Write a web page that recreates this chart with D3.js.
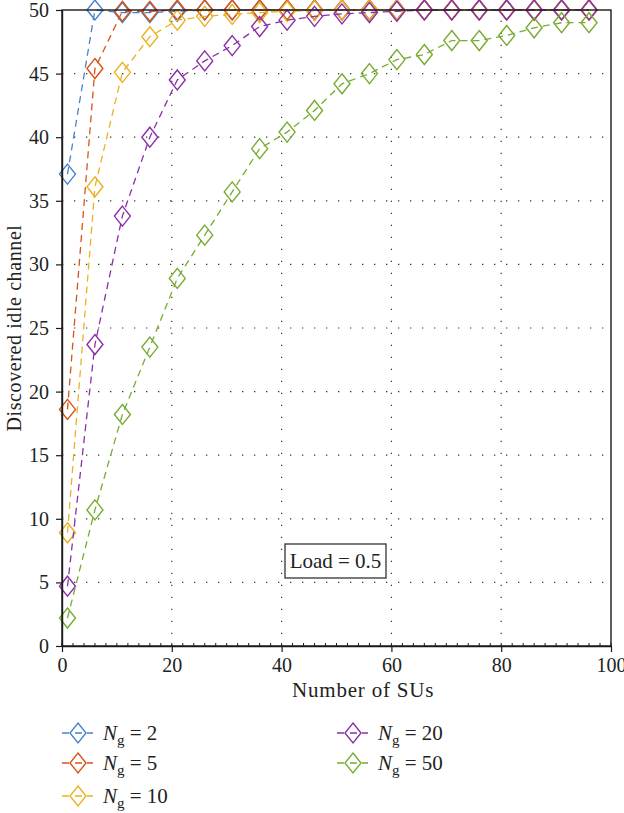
<!DOCTYPE html>
<html>
<head>
<meta charset="utf-8">
<script src="https://cdn.jsdelivr.net/npm/d3@7"></script>
<style>
  html, body { margin: 0; padding: 0; background: #fff; }
  svg { display: block; }
  text { font-family: "Liberation Serif", "Times New Roman", serif; fill: #222; }
</style>
</head>
<body>
<svg id="chart" width="624" height="813"></svg>
<script>
// Number of secondary users (x positions of the markers)
const numSUs = [1, 6, 11, 16, 21, 26, 31, 36, 41, 46, 51, 56, 61, 66, 71, 76, 81, 86, 91, 96];

// Discovered idle channels for each group count N_g
const ng2  = [37.1, 50, 49.8, 49.8, 49.9, 50, 50, 50, 50, 50, 50, 50, 50, 50, 50, 50, 50, 50, 50, 50];
const ng5  = [18.6, 45.4, 49.9, 49.9, 50, 50, 50, 50, 50, 50, 50, 50, 50, 50, 50, 50, 50, 50, 50, 50];
const ng10 = [8.9, 36.1, 45.1, 47.9, 49.2, 49.5, 49.65, 49.8, 49.9, 49.95, 50, 50, 50, 50, 50, 50, 50, 50, 50, 50];
const ng20 = [4.7, 23.7, 33.8, 40.0, 44.5, 46.0, 47.2, 48.7, 49.2, 49.5, 49.7, 49.8, 49.9, 50, 50, 50, 50, 50, 50, 50];
const ng50 = [2.2, 10.7, 18.2, 23.5, 28.9, 32.3, 35.7, 39.1, 40.4, 42.1, 44.2, 45.0, 46.1, 46.5, 47.6, 47.6, 48.0, 48.6, 49.0, 49.0];

const seriesNames = ["2", "5", "10", "20", "50"];
const seriesColors = ["#4483cc", "#d95319", "#edb120", "#8a2fa8", "#77ac30"];
const seriesValues = [ng2, ng5, ng10, ng20, ng50];

const xTicks = [0, 20, 40, 60, 80, 100];
const yTicks = [0, 5, 10, 15, 20, 25, 30, 35, 40, 45, 50];
const loadLabel = "Load = 0.5";

const svg = d3.select("#chart");
const margin = { left: 62, right: 13, top: 10, bottom: 167 };
const W = 624, H = 813;

const x = d3.scaleLinear().domain([0, 100]).range([margin.left, W - margin.right]);
const y = d3.scaleLinear().domain([0, 50]).range([H - margin.bottom, margin.top]);

svg.append("rect").attr("width", W).attr("height", H).attr("fill", "#fff");

// dotted grid
const grid = svg.append("g").attr("stroke", "#333").attr("stroke-width", 1.2)
  .attr("stroke-dasharray", "1.3,10.7");
grid.selectAll("line.gx").data(xTicks.slice(1, -1)).join("line")
  .attr("x1", d => x(d)).attr("x2", d => x(d))
  .attr("y1", y(0)).attr("y2", y(50));
grid.selectAll("line.gy").data(yTicks.slice(1, -1)).join("line")
  .attr("y1", d => y(d)).attr("y2", d => y(d))
  .attr("x1", x(0)).attr("x2", x(100));

// series lines and diamond markers
const diamond = "M0,-10L8,0L0,10L-8,0Z";
const lineGen = d3.line().x((d, i) => x(numSUs[i])).y(d => y(d));

seriesValues.forEach((vals, s) => {
  const g = svg.append("g");
  g.append("path").attr("d", lineGen(vals)).attr("fill", "none")
    .attr("stroke", seriesColors[s]).attr("stroke-width", 1.3)
    .attr("stroke-dasharray", "7,5");
  g.selectAll("path.m").data(vals).join("path").attr("class", "m")
    .attr("d", diamond)
    .attr("transform", (d, i) => `translate(${x(numSUs[i])},${y(d)})`)
    .attr("fill", "none").attr("stroke", seriesColors[s]).attr("stroke-width", 1.4);
});

// frame
svg.append("rect").attr("x", x(0)).attr("y", y(50))
  .attr("width", x(100) - x(0)).attr("height", y(0) - y(50))
  .attr("fill", "none").attr("stroke", "#1a1a1a").attr("stroke-width", 1.4);

// axes
const xAxis = d3.axisBottom(x).tickValues(xTicks).tickSize(6).tickSizeOuter(0).tickPadding(6);
const gx = svg.append("g").attr("transform", `translate(0,${y(0)})`).call(xAxis);
gx.select(".domain").attr("stroke", "#1a1a1a").attr("stroke-width", 1.4);
gx.selectAll(".tick line").attr("stroke", "#1a1a1a").attr("stroke-width", 1.2);
gx.selectAll(".tick text").attr("font-size", 20).attr("font-family", "Liberation Serif").attr("fill", "#222");

// minor x ticks every 2 units, pointing into the plot
const xMinor = d3.range(0, 101, 2);
svg.append("g").selectAll("line").data(xMinor).join("line")
  .attr("x1", d => x(d)).attr("x2", d => x(d))
  .attr("y1", y(0)).attr("y2", y(0) - 3)
  .attr("stroke", "#1a1a1a").attr("stroke-width", 1);

const yAxis = d3.axisLeft(y).tickValues(yTicks).tickSize(6).tickSizeOuter(0).tickPadding(7);
const gy = svg.append("g").attr("transform", `translate(${x(0)},0)`).call(yAxis);
gy.select(".domain").attr("stroke", "#1a1a1a").attr("stroke-width", 1.4);
gy.selectAll(".tick line").attr("stroke", "#1a1a1a").attr("stroke-width", 1.2);
gy.selectAll(".tick text").attr("font-size", 20).attr("font-family", "Liberation Serif").attr("fill", "#222");

// axis titles
svg.append("text").attr("x", 292).attr("y", 697)
  .attr("font-size", 21).attr("letter-spacing", 0.8)
  .text("Number of SUs");
svg.append("text").attr("transform", `translate(21,${(y(0) + y(50)) / 2}) rotate(-90)`)
  .attr("text-anchor", "middle").attr("font-size", 20).attr("letter-spacing", 0.6)
  .text("Discovered idle channel");

// load annotation
const lg = svg.append("g");
lg.append("rect").attr("x", 285).attr("y", 544).attr("width", 101).attr("height", 34)
  .attr("fill", "#fff").attr("stroke", "#333").attr("stroke-width", 1.3);
lg.append("text").attr("x", 335.5).attr("y", 568).attr("text-anchor", "middle")
  .attr("font-size", 21).text(loadLabel);

// legend
const legendPos = [[62, 733], [62, 763], [62, 796], [337, 733], [337, 763]];
seriesNames.forEach((name, s) => {
  const [lx, ly] = legendPos[s];
  const g = svg.append("g").attr("transform", `translate(${lx},${ly})`);
  g.append("line").attr("x1", 0).attr("x2", 31).attr("y1", 0).attr("y2", 0)
    .attr("stroke", seriesColors[s]).attr("stroke-width", 1.3)
    .attr("stroke-dasharray", "7,6,7,5,6");
  g.append("path").attr("d", diamond).attr("transform", "translate(16,0)")
    .attr("fill", "none").attr("stroke", seriesColors[s]).attr("stroke-width", 1.4);
  const t = g.append("text").attr("x", 41).attr("y", 7).attr("font-size", 21);
  t.append("tspan").attr("font-style", "italic").text("N");
  t.append("tspan").attr("font-size", 15).attr("dy", 5).text("g");
  t.append("tspan").attr("dy", -5).text(" = " + name);
});
</script>
</body>
</html>
